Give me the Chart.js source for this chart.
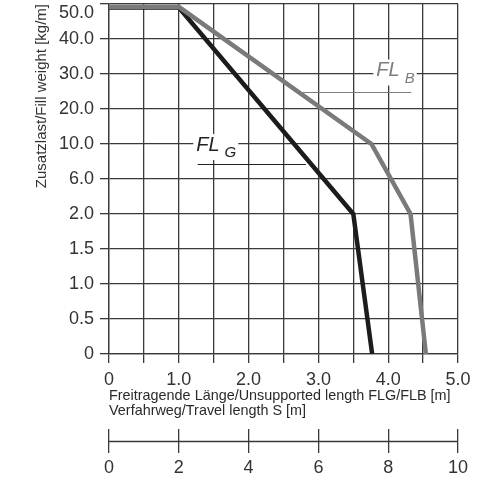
<!DOCTYPE html>
<html>
<head>
<meta charset="utf-8">
<script src="https://cdn.jsdelivr.net/npm/chart.js@4/dist/chart.umd.min.js"></script>
<style>
  html, body { margin: 0; padding: 0; background: #fff; }
  #wrap { width: 500px; height: 480px; }
</style>
</head>
<body>
<div id="wrap"><canvas id="chart" width="500" height="480"></canvas></div>
<script>
// Fill weight vs unsupported length (FL_G / FL_B)
// y axis is not linear: each tick value gets the same spacing

const yTicks = [0, 0.5, 1.0, 1.5, 2.0, 6.0, 10.0, 20.0, 30.0, 40.0, 50.0];
const xTicks = [0, 1.0, 2.0, 3.0, 4.0, 5.0];
const travelTicks = [0, 2, 4, 6, 8, 10];

// FL_G (black)
const flgX = [0, 1.0, 3.5, 3.77];
const flgY = [49, 49, 2.0, 0];
// FL_B (grey)
const flbX = [0, 1.0, 3.76, 4.32, 4.54];
const flbY = [49.2, 49.2, 10.0, 2.0, 0];

// value -> position on the evenly spaced y ticks
function toIndex(v) {
  for (let i = 0; i < yTicks.length - 1; i++) {
    const a = yTicks[i], b = yTicks[i + 1];
    if (v <= b) return i + (v - a) / (b - a);
  }
  return yTicks.length - 1;
}

const points = (xs, ys) => xs.map((x, i) => ({ x: x, y: toIndex(ys[i]) }));

const FONT = "'Liberation Sans', Arial, sans-serif";
const GRID = "#3a3a3a";
const TXT = "#333";

// FL labels with their leader lines
const labelPlugin = {
  id: "flLabels",
  afterDatasetsDraw(chart) {
    const { ctx, scales: { x, y } } = chart;
    const items = [
      { main: "FL", sub: "G", color: "#222", x: 1.25, y: 5.97, lx1: 1.27, lx2: 2.82, ly: 5.43 },
      { main: "FL", sub: "B", color: "#7d7d7d", x: 3.83, y: 8.1, lx1: 2.78, lx2: 4.33, ly: 7.48 }
    ];
    ctx.save();
    items.forEach((it) => {
      const px = x.getPixelForValue(it.x);
      const py = y.getPixelForValue(it.y);
      ctx.font = "italic 20px " + FONT;
      const w1 = ctx.measureText(it.main).width;
      ctx.font = "italic 15px " + FONT;
      const w2 = ctx.measureText(it.sub).width;
      ctx.fillStyle = "#fff";
      ctx.fillRect(px - 3, py - 11, w1 + w2 + 10, 26);
      ctx.fillStyle = it.color;
      ctx.textBaseline = "middle";
      ctx.font = "italic 20px " + FONT;
      ctx.fillText(it.main, px, py);
      ctx.font = "italic 15px " + FONT;
      ctx.fillText(it.sub, px + w1 + 5, py + 8);
      ctx.strokeStyle = it.color;
      ctx.lineWidth = 1;
      const ly = Math.round(y.getPixelForValue(it.ly)) + 0.5;
      ctx.beginPath();
      ctx.moveTo(x.getPixelForValue(it.lx1), ly);
      ctx.lineTo(x.getPixelForValue(it.lx2), ly);
      ctx.stroke();
    });
    ctx.restore();
  }
};

// middle line of the travel length scale
const travelLine = {
  id: "travelLine",
  afterDraw(chart) {
    const s = chart.scales.x2;
    const ctx = chart.ctx;
    const yy = Math.round(s.top + 12) + 0.5;
    ctx.save();
    ctx.strokeStyle = GRID;
    ctx.lineWidth = 1.3;
    ctx.beginPath();
    ctx.moveTo(s.getPixelForValue(travelTicks[0]), yy);
    ctx.lineTo(s.getPixelForValue(travelTicks[travelTicks.length - 1]), yy);
    ctx.stroke();
    ctx.restore();
  }
};

new Chart(document.getElementById("chart"), {
  type: "line",
  data: {
    datasets: [
      {
        label: "FL_B",
        data: points(flbX, flbY),
        borderColor: "#7a7a7a",
        borderWidth: 4.5,
        pointRadius: 0,
        tension: 0,
        order: 0
      },
      {
        label: "FL_G",
        data: points(flgX, flgY),
        borderColor: "#1c1c1c",
        borderWidth: 4.5,
        pointRadius: 0,
        tension: 0,
        order: 1
      }
    ]
  },
  options: {
    responsive: false,
    animation: false,
    layout: { padding: { left: 26, right: 42, top: 0, bottom: 3 } },
    plugins: { legend: { display: false }, tooltip: { enabled: false } },
    scales: {
      x: {
        type: "linear",
        min: xTicks[0],
        max: xTicks[xTicks.length - 1],
        weight: 0,
        grid: { color: GRID, lineWidth: 1.3, tickLength: 9 },
        border: { color: GRID, width: 1.3 },
        // tick padding is counted twice by chart.js, take one back
        afterFit: (scale) => { scale.height -= 8; },
        ticks: {
          stepSize: 0.5,
          autoSkip: false,
          maxRotation: 0,
          padding: 8,
          color: TXT,
          font: { family: FONT, size: 18, lineHeight: 1.0 },
          callback: (v) => (xTicks.includes(v) ? (v === 0 ? "0" : v.toFixed(1)) : "")
        },
        title: {
          display: true,
          align: "start",
          text: ["Freitragende Länge/Unsupported length FLG/FLB [m]", "Verfahrweg/Travel length S [m]"],
          color: "#2a2a2a",
          font: { family: FONT, size: 14.4, lineHeight: 15 / 14.4 },
          padding: { top: 0, bottom: 10 }
        }
      },
      x2: {
        type: "linear",
        position: "bottom",
        min: travelTicks[0],
        max: travelTicks[travelTicks.length - 1],
        weight: 1,
        grid: { drawOnChartArea: false, color: GRID, lineWidth: 1.3, tickLength: 24 },
        border: { display: false },
        afterFit: (scale) => { scale.height -= 6; },
        ticks: {
          stepSize: 2,
          maxRotation: 0,
          padding: 6,
          color: TXT,
          font: { family: FONT, size: 18, lineHeight: 1.0 }
        }
      },
      y: {
        type: "linear",
        min: 0,
        max: yTicks.length - 1,
        grid: { color: GRID, lineWidth: 1.3, tickLength: 9 },
        border: { color: GRID, width: 1.3 },
        // let the plot reach the top edge, the top label is pushed down below
        afterFit: (scale) => { scale.paddingTop = 4; },
        ticks: {
          stepSize: 1,
          autoSkip: false,
          padding: 6,
          color: TXT,
          font: { family: FONT, size: 18, lineHeight: 1.0 },
          callback: (v) => {
            const t = yTicks[Math.round(v)];
            const s = t === 0 ? "0" : t.toFixed(1);
            return Math.round(v) === yTicks.length - 1 ? ["", s] : s;
          }
        },
        title: {
          display: true,
          align: "end",
          text: "Zusatzlast/Fill weight [kg/m]",
          color: TXT,
          font: { family: FONT, size: 15 },
          padding: { top: 7, bottom: 2 }
        }
      }
    }
  },
  plugins: [labelPlugin, travelLine]
});
</script>
</body>
</html>
